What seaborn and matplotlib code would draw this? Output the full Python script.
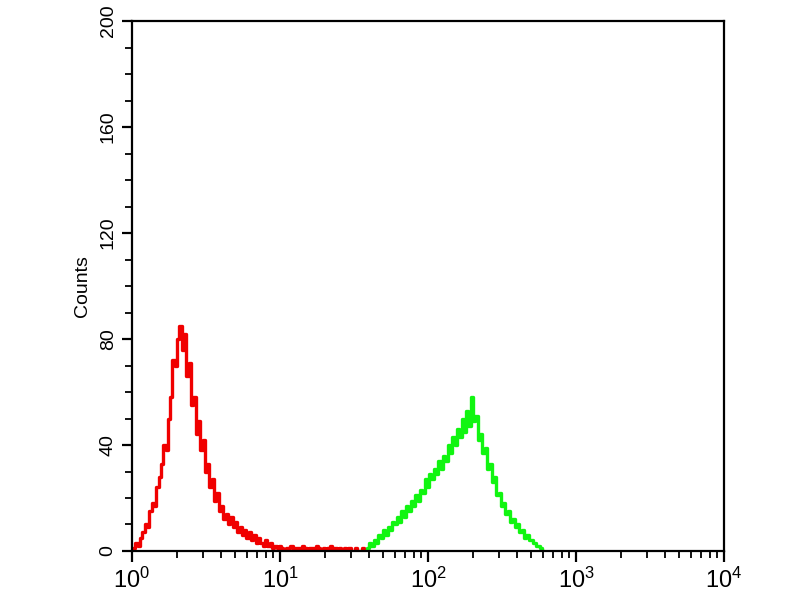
import numpy as np
import pandas as pd
import matplotlib
matplotlib.use("Agg")
import matplotlib.pyplot as plt
from matplotlib.ticker import LogLocator, MultipleLocator
import seaborn as sns

# channel resolution: 64 channels per decade, x = 10 ** (channel / 64)
CH_PER_DECADE = 64

# red histogram (control), channels 0..103
red_start = 0
red_counts = [
    0, 1, 3, 2, 5, 7, 10, 9, 15, 18, 17, 24, 28, 33, 40, 38, 50, 58, 72, 70,
    80, 85, 76, 82, 66, 71, 55, 58, 44, 49, 38, 42, 30, 33, 24, 27, 19, 22, 15, 17,
    12, 14, 10, 13, 9, 11, 7, 9, 6, 8, 5, 7, 4, 6, 3, 5, 3, 2, 4, 2,
    3, 1, 2, 1, 2, 1, 0, 1, 1, 2, 0, 1, 1, 0, 2, 1, 0, 1, 1, 0,
    2, 1, 0, 1, 0, 1, 2, 0, 1, 0, 1, 0, 1, 0, 1, 0, 0, 1, 0, 0,
    1, 0, 0, 0,
]

# green histogram (stained), channels 101..178
green_start = 101
green_counts = [
    0, 1, 3, 2, 4, 3, 6, 5, 8, 6, 9, 8, 11, 10, 13, 11, 15, 13, 17, 15,
    19, 17, 21, 19, 23, 22, 27, 24, 29, 27, 31, 29, 34, 31, 36, 34, 40, 37, 43, 40,
    46, 43, 50, 45, 53, 47, 58, 49, 51, 42, 44, 37, 39, 31, 33, 26, 28, 21, 22, 17,
    18, 14, 15, 11, 12, 9, 10, 7, 8, 5, 6, 4, 4, 3, 2, 2, 1, 0,
]

y_ticks = [0, 40, 80, 120, 160, 200]


def to_frame(start, counts, name):
    ch = np.arange(start, start + len(counts))
    return pd.DataFrame({
        "intensity": 10.0 ** (ch / CH_PER_DECADE),
        "count": counts,
        "sample": name,
    })


df = pd.concat([
    to_frame(red_start, red_counts, "control"),
    to_frame(green_start, green_counts, "stained"),
], ignore_index=True)

sns.set_style("ticks")
plt.rcParams["font.family"] = ["Liberation Sans", "DejaVu Sans"]
plt.rcParams["text.color"] = "black"
plt.rcParams["axes.labelcolor"] = "black"
plt.rcParams["xtick.color"] = "black"
plt.rcParams["ytick.color"] = "black"

fig = plt.figure(figsize=(8, 6), dpi=100)
ax = fig.add_axes([0.165, 0.0817, 0.74, 0.883])

sns.lineplot(
    data=df, x="intensity", y="count", hue="sample",
    palette={"control": "#f00000", "stained": "#11f511"},
    drawstyle="steps-mid", linewidth=2.4, legend=False, ax=ax,
    estimator=None, sort=True,
)

ax.set_xscale("log")
ax.set_xlim(1, 1e4)
ax.set_ylim(0, 200)
ax.set_xlabel("")
ax.set_ylabel("Counts", fontsize=14, labelpad=6)

ax.xaxis.set_major_locator(LogLocator(base=10, numticks=10))
ax.xaxis.set_minor_locator(LogLocator(base=10, subs=np.arange(2, 10), numticks=20))
ax.set_yticks(y_ticks)
ax.yaxis.set_minor_locator(MultipleLocator(10))

ax.tick_params(axis="x", which="major", length=8, width=1.6, labelsize=17, pad=4)
ax.tick_params(axis="x", which="minor", length=5, width=1.3)
ax.tick_params(axis="y", which="major", length=7, width=1.6, labelsize=14, pad=4)
ax.tick_params(axis="y", which="minor", length=5, width=1.3)
for lab in ax.get_yticklabels():
    lab.set_rotation(90)
    lab.set_va("center")

for side in ["top", "right", "left", "bottom"]:
    ax.spines[side].set_visible(True)
    ax.spines[side].set_linewidth(1.6)
    ax.spines[side].set_color("black")

fig.savefig("out.png", dpi=100)
